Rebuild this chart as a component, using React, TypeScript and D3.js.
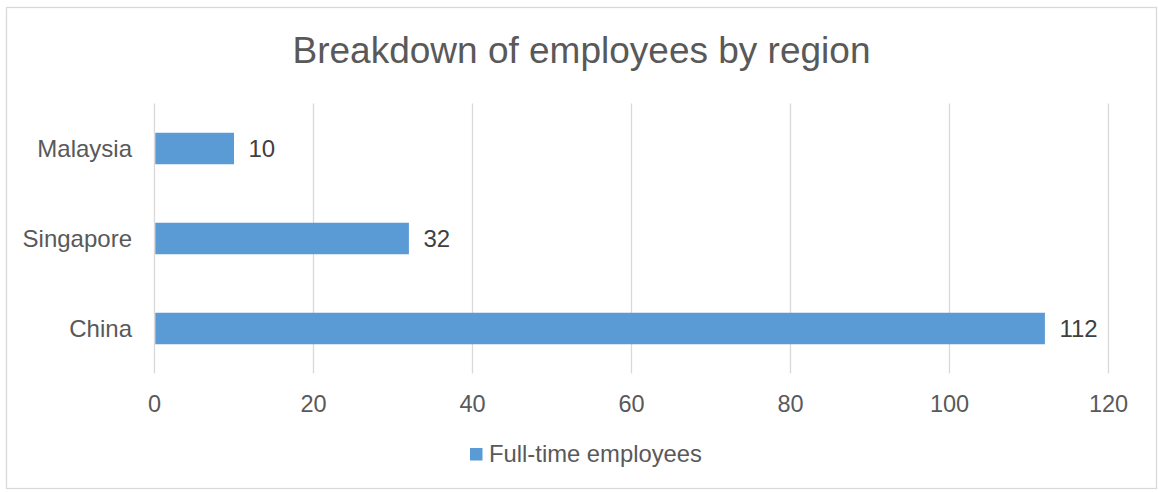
import React from "react";
import * as d3 from "d3";

const categories = ["Malaysia", "Singapore", "China"];
const values = [10, 32, 112];
const xTicks = [0, 20, 40, 60, 80, 100, 120];
const seriesName = "Full-time employees";
const title = "Breakdown of employees by region";

const W = 1159;
const H = 492;
const FONT = "'Liberation Sans', Arial, sans-serif";
const TXT = "#595959";
const BAR = "#5B9BD5";
const GRID = "#D9D9D9";

export default function App() {
  const x = d3.scaleLinear().domain([0, 120]).range([154.5, 1108.5]);
  const y = d3
    .scaleBand<string>()
    .domain(categories)
    .range([103.5, 373.5])
    .paddingInner(0.65)
    .paddingOuter(0.325);
  const [y0, y1] = y.range();

  return (
    <svg
      width={W}
      height={H}
      style={{ position: "absolute", left: 0, top: 0, background: "#fff" }}
      fontFamily={FONT}
    >
      <rect x={0} y={0} width={W} height={H} fill="#fff" />
      <rect x={6.5} y={7.5} width={1150} height={481} fill="#fff" stroke={GRID} strokeWidth={1.3} />
      <text x={581.5} y={63} textAnchor="middle" fontSize={37} fill={TXT}>
        {title}
      </text>
      {xTicks.map((t) => (
        <g key={t}>
          <line x1={x(t)} x2={x(t)} y1={y0} y2={y1} stroke={GRID} strokeWidth={1.3} />
          <text x={x(t)} y={412} textAnchor="middle" fontSize={23.5} fill={TXT}>
            {t}
          </text>
        </g>
      ))}
      {categories.map((c, i) => {
        const by = y(c)!;
        const bh = y.bandwidth();
        return (
          <g key={c}>
            <rect x={x(0) + 0.8} y={by} width={x(values[i]) - x(0) - 0.8} height={bh} fill={BAR} />
            <text x={132} y={by + bh / 2 + 8.5} textAnchor="end" fontSize={24} fill={TXT}>
              {c}
            </text>
            <text x={x(values[i]) + 14.5} y={by + bh / 2 + 8.5} fontSize={24} fill={"#404040"}>
              {values[i]}
            </text>
          </g>
        );
      })}
      <rect x={470} y={448} width={12.5} height={12.5} fill={BAR} />
      <text x={489} y={462} fontSize={23.8} fill={TXT}>
        {seriesName}
      </text>
    </svg>
  );
}
